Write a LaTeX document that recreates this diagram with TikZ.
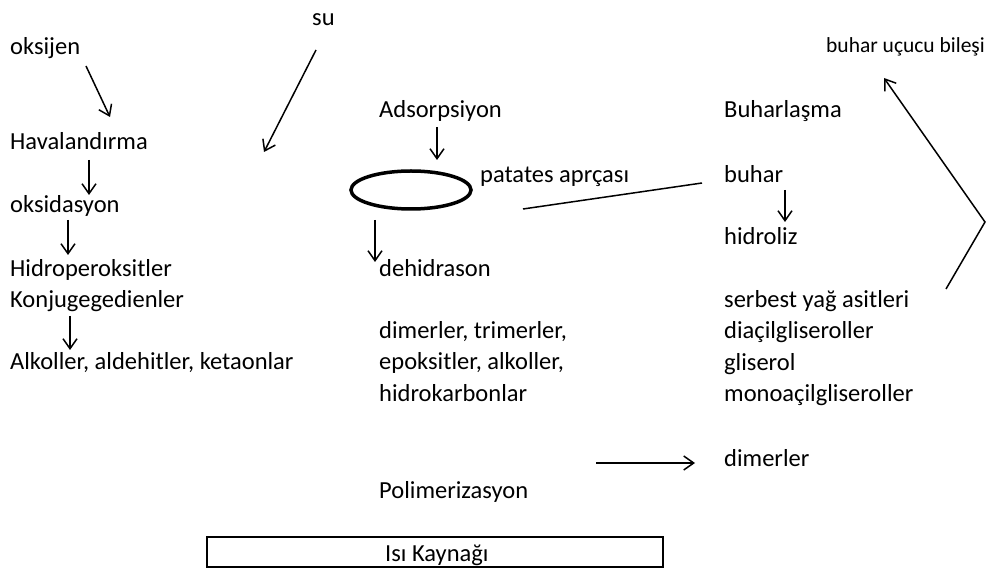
\documentclass[tikz,border=0pt]{standalone}
\usepackage{fontspec}
\setmainfont{Carlito}
\usetikzlibrary{arrows.meta,shapes.geometric}
\begin{document}
\begin{tikzpicture}[x=1pt,y=-1pt,
  lbl/.style={anchor=base west, inner sep=0pt, font=\fontsize{24.5}{29}\selectfont},
  small/.style={anchor=base west, inner sep=0pt, font=\fontsize{21.5}{26}\selectfont},
  arr/.style={-{Straight Barb[length=10pt,width=14pt]}, line width=1.5pt, line join=miter},
  plain/.style={line width=1.5pt}]
\useasboundingbox (0,0) rectangle (986,569);
% left column
\node[lbl] (su) at (312,26) {su};
\node[lbl] (oks) at (10,55) {oksijen};
\node[lbl] (hav) at (10,150) {Havalandırma};
\node[lbl] (oksd) at (10,213) {oksidasyon};
\node[lbl] (hidro) at (10,277) {Hidroperoksitler};
\node[lbl] (konj) at (10,308) {Konjugegedienler};
\node[lbl] (alk) at (10,370) {Alkoller, aldehitler, ketaonlar};
% centre column
\node[lbl] (ads) at (379,118) {Adsorpsiyon};
\node[draw, ellipse, line width=3.5pt, minimum width=120pt, minimum height=38pt, inner sep=0pt] (pot) at (411,190) {};
\node[lbl] (pat) at (480,183) {patates aprçası};
\node[lbl] (dehi) at (379,277) {dehidrason};
\node[lbl] (dim1) at (379,339) {dimerler, trimerler,};
\node[lbl] (epo) at (379,370) {epoksitler, alkoller,};
\node[lbl] (hkar) at (379,402) {hidrokarbonlar};
\node[lbl] (poli) at (379,498) {Polimerizasyon};
% right column
\node[small] (uc) at (826,53) {buhar uçucu bileşi};
\node[lbl] (buhl) at (724,118) {Buharlaşma};
\node[lbl] (buh) at (724,183) {buhar};
\node[lbl] (hidl) at (724,245) {hidroliz};
\node[lbl] (serb) at (724,308) {serbest yağ asitleri};
\node[lbl] (diac) at (724,339) {diaçilgliseroller};
\node[lbl] (glis) at (724,371) {gliserol};
\node[lbl] (mono) at (724,402) {monoaçilgliseroller};
\node[lbl] (dim2) at (724,466) {dimerler};
% heat source
\node[draw, line width=1.2pt, minimum width=456pt, minimum height=30pt, inner sep=0pt] (box) at (435,552) {};
\node[lbl] (isi) at (385,561) {Isı Kaynağı};
% connector end points
\coordinate (a1s) at (86,66);   \coordinate (a1e) at (110,117);
\coordinate (a2s) at (316,50);  \coordinate (a2e) at (264,152);
\coordinate (a3s) at (89,160);  \coordinate (a3e) at (89,195);
\coordinate (a4s) at (68,220);  \coordinate (a4e) at (68,255);
\coordinate (a5s) at (70,316);  \coordinate (a5e) at (70,350);
\coordinate (a6s) at (437,127); \coordinate (a6e) at (437,160);
\coordinate (a7s) at (375,220); \coordinate (a7e) at (375,262);
\coordinate (l1s) at (523,209); \coordinate (l1e) at (702,183);
\coordinate (a8s) at (785,190); \coordinate (a8e) at (785,222);
\coordinate (a9s) at (596,463); \coordinate (a9e) at (695,463);
\coordinate (b1) at (946,289);  \coordinate (b2) at (985,222); \coordinate (b3) at (884,78);
% connectors
\draw[arr] (a1s) -- (a1e);
\draw[arr] (a2s) -- (a2e);
\draw[arr] (a3s) -- (a3e);
\draw[arr] (a4s) -- (a4e);
\draw[arr] (a5s) -- (a5e);
\draw[arr] (a6s) -- (a6e);
\draw[arr] (a7s) -- (a7e);
\draw[plain] (l1s) -- (l1e);
\draw[arr] (a8s) -- (a8e);
\draw[arr] (a9s) -- (a9e);
\draw[arr] (b1) -- (b2) -- (b3);
\end{tikzpicture}
\end{document}
